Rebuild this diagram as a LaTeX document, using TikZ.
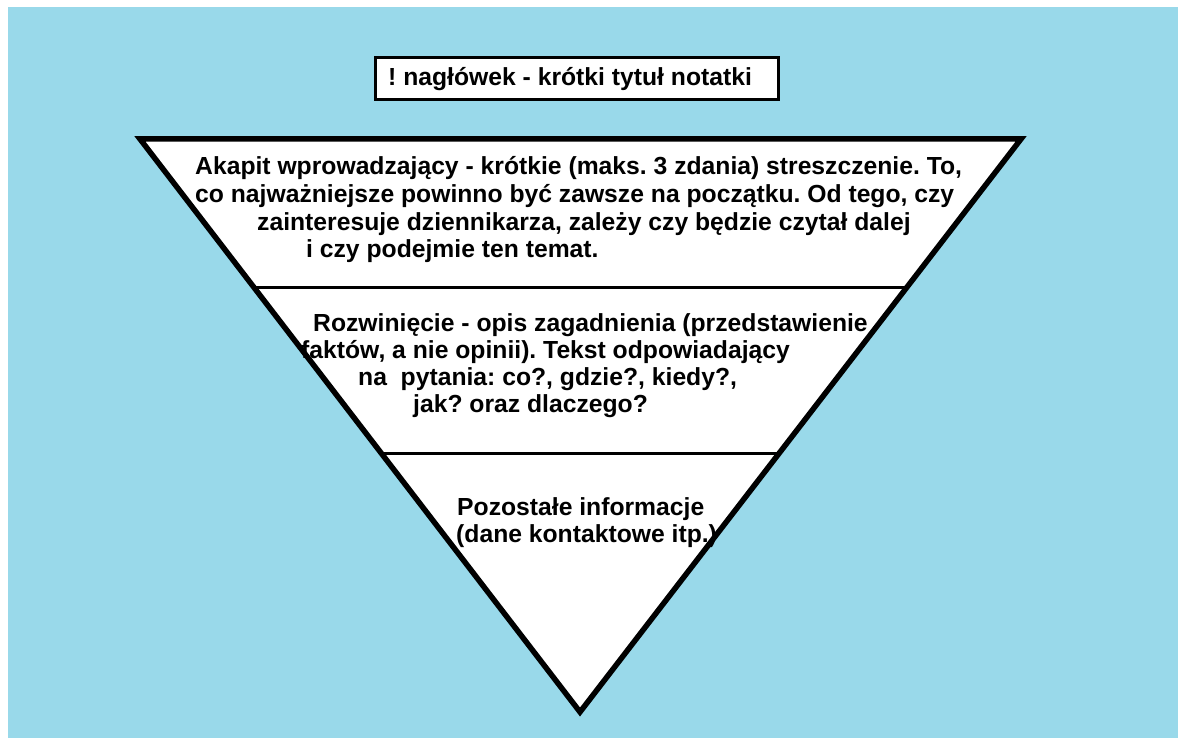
\documentclass[tikz,border=0pt]{standalone}
\usepackage{fontspec}
\setmainfont{Liberation Sans}
\usetikzlibrary{calc,positioning}
\frenchspacing

\definecolor{tlo}{RGB}{153,217,234}

\begin{document}
\begin{tikzpicture}[x=1pt,y=-1pt,
  napis/.style={anchor=base west,inner sep=0pt,font=\fontsize{24.7}{28}\selectfont\bfseries},
  ramka/.style={draw,line width=3pt,fill=white,minimum width=403pt,minimum height=42pt,inner sep=0pt}]
\useasboundingbox (0,0) rectangle (1178,738);
\fill[white] (0,0) rectangle (1178,738);
\fill[tlo] (8,7) rectangle (1178,738);

\coordinate (A) at (140,139);
\coordinate (B) at (1021,139);
\coordinate (C) at (580,712);

% odwrocona piramida
\draw[line width=5.5pt,fill=white] (A) -- (B) -- (C) -- cycle;
\draw[line width=3pt] ($(A)!0.26!(C)$) -- ($(B)!0.26!(C)$);
\draw[line width=3pt] ($(A)!0.548!(C)$) -- ($(B)!0.548!(C)$);

% naglowek
\node[ramka] (naglowek) at (576.5,79) {};
\node[napis] (tytul) at (388,86) {! nagłówek - krótki tytuł notatki};

% akapit wprowadzajacy
\node[napis] (akapit1) at (195,175) {Akapit wprowadzający - krótkie (maks. 3 zdania) streszczenie. To,};
\node[napis] (akapit2) at (195,203) {co najważniejsze powinno być zawsze na początku. Od tego, czy};
\node[napis] (akapit3) at (257,230) {zainteresuje dziennikarza, zależy czy będzie czytał dalej};
\node[napis] (akapit4) at (306,258) {i czy podejmie ten temat.};

% rozwiniecie
\node[napis] (rozw1) at (313,331) {Rozwinięcie - opis zagadnienia (przedstawienie};
\node[napis] (rozw2) at (301,358) {faktów, a nie opinii). Tekst odpowiadający};
\node[napis] (rozw3) at (358,385) {na\ \ pytania: co?, gdzie?, kiedy?,};
\node[napis] (rozw4) at (413,412) {jak? oraz dlaczego?};

% pozostale
\node[napis] (reszta1) at (457,515) {Pozostałe informacje};
\node[napis] (reszta2) at (456,542) {(dane kontaktowe itp.)};
\end{tikzpicture}
\end{document}
